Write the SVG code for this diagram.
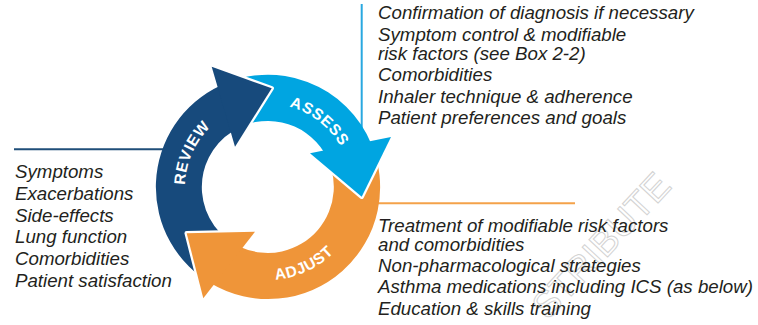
<svg xmlns="http://www.w3.org/2000/svg" xmlns:xlink="http://www.w3.org/1999/xlink" width="758" height="325" viewBox="0 0 758 325">
  <style>
    .txt { font-family: "Liberation Sans", Arial, sans-serif; font-style: italic; font-size: 18.7px; fill: #231f20; }
    .lbl { font-family: "Liberation Sans", Arial, sans-serif; font-weight: bold; font-size: 15.5px; fill: #ffffff; letter-spacing: 0.7px; }
    .review { fill: #174a7c; }
    .assess { fill: #00a5e1; }
    .adjust { fill: #ef9539; }
    .wm { font-family: "Liberation Sans", Arial, sans-serif; font-size: 37px; fill: none; stroke: #d2d2d2; stroke-width: 1; }
  </style>
  <defs>
    <path id="arc-review" d="M200.9,235.8 A83,83 0 0 1 259.3,104.5"/>
    <path id="arc-assess" d="M236.9,110 A83,83 0 0 1 350.2,198.6"/>
    <path id="arc-adjust" d="M214.7,263.2 A93,93 0 0 0 360.6,195.1"/>
    <mask id="m-review" maskUnits="userSpaceOnUse" x="0" y="0" width="758" height="325">
      <rect width="758" height="325" fill="#fff"/>
      <polygon points="255,231.7 186.7,233.3 203.3,298.3" fill="#000" stroke="#000" stroke-width="4.5" stroke-linejoin="round"/>
    </mask>
    <mask id="m-assess" maskUnits="userSpaceOnUse" x="0" y="0" width="758" height="325">
      <rect width="758" height="325" fill="#fff"/>
      <polygon points="211.7,66.7 271.7,88.3 235,146.7" fill="#000" stroke="#000" stroke-width="4.5" stroke-linejoin="round"/>
    </mask>
    <mask id="m-adjust" maskUnits="userSpaceOnUse" x="0" y="0" width="758" height="325">
      <rect width="758" height="325" fill="#fff"/>
      <polygon points="310,153.3 361.7,196.7 391,137" fill="#000" stroke="#000" stroke-width="4.5" stroke-linejoin="round"/>
    </mask>
  </defs>

  <rect width="758" height="325" fill="#ffffff"/>

  <!-- watermark -->
  <text class="wm" x="548" y="321" transform="rotate(-47 548 321)">STRIBUTE</text>

  <g id="connectors">
    <line x1="14" y1="149.3" x2="165" y2="149.3" stroke="#1f4e79" stroke-width="2"/>
    <line x1="361.7" y1="4" x2="361.7" y2="142" stroke="#29a8e0" stroke-width="2"/>
    <line x1="376" y1="203.3" x2="575" y2="203.3" stroke="#f4a24a" stroke-width="2"/>
  </g>

  <g id="node-review">
    <path class="review" mask="url(#m-review)" d="M213.6,285 A112,112 0 0 1 221.2,85.2 L232.8,131.2 A66,66 0 0 0 242.3,248 Z"/>
    <polygon class="review" points="211.7,66.7 271.7,88.3 235,146.7"/>
    <text class="lbl"><textPath xlink:href="#arc-review" href="#arc-review" startOffset="50%" text-anchor="middle">REVIEW</textPath></text>
  </g>

  <g id="node-assess">
    <path class="assess" mask="url(#m-assess)" d="M217.5,86.7 A112,112 0 0 1 371.8,144.9 L324.3,152.6 A66,66 0 0 0 230.8,132.3 Z"/>
    <polygon class="assess" points="310,153.3 361.7,196.7 391,137"/>
    <text class="lbl"><textPath xlink:href="#arc-assess" href="#arc-assess" startOffset="50%" text-anchor="middle">ASSESS</textPath></text>
  </g>

  <g id="node-adjust">
    <path class="adjust" mask="url(#m-adjust)" d="M370.3,141.2 A112,112 0 0 1 210.3,283 L240.3,246.9 A66,66 0 0 0 323,150.7 Z"/>
    <polygon class="adjust" points="255,231.7 186.7,233.3 203.3,298.3"/>
    <text class="lbl"><textPath xlink:href="#arc-adjust" href="#arc-adjust" startOffset="50%" text-anchor="middle">ADJUST</textPath></text>
  </g>

  <g id="text-assess">
    <text class="txt" x="378" y="19">Confirmation of diagnosis if necessary</text>
    <text class="txt" x="378" y="40.7">Symptom control &amp; modifiable</text>
    <text class="txt" x="378" y="60">risk factors (see Box 2-2)</text>
    <text class="txt" x="378" y="81">Comorbidities</text>
    <text class="txt" x="378" y="102.7">Inhaler technique &amp; adherence</text>
    <text class="txt" x="378" y="124.3">Patient preferences and goals</text>
  </g>

  <g id="text-review">
    <text class="txt" x="15" y="178.3">Symptoms</text>
    <text class="txt" x="15" y="200">Exacerbations</text>
    <text class="txt" x="15" y="221.7">Side-effects</text>
    <text class="txt" x="15" y="243.3">Lung function</text>
    <text class="txt" x="15" y="265">Comorbidities</text>
    <text class="txt" x="15" y="286.7">Patient satisfaction</text>
  </g>

  <g id="text-adjust">
    <text class="txt" x="378" y="231.7">Treatment of modifiable risk factors</text>
    <text class="txt" x="378" y="250.7">and comorbidities</text>
    <text class="txt" x="378" y="271.7">Non-pharmacological strategies</text>
    <text class="txt" x="378" y="293.3">Asthma medications including ICS (as below)</text>
    <text class="txt" x="378" y="315">Education &amp; skills training</text>
  </g>
</svg>
